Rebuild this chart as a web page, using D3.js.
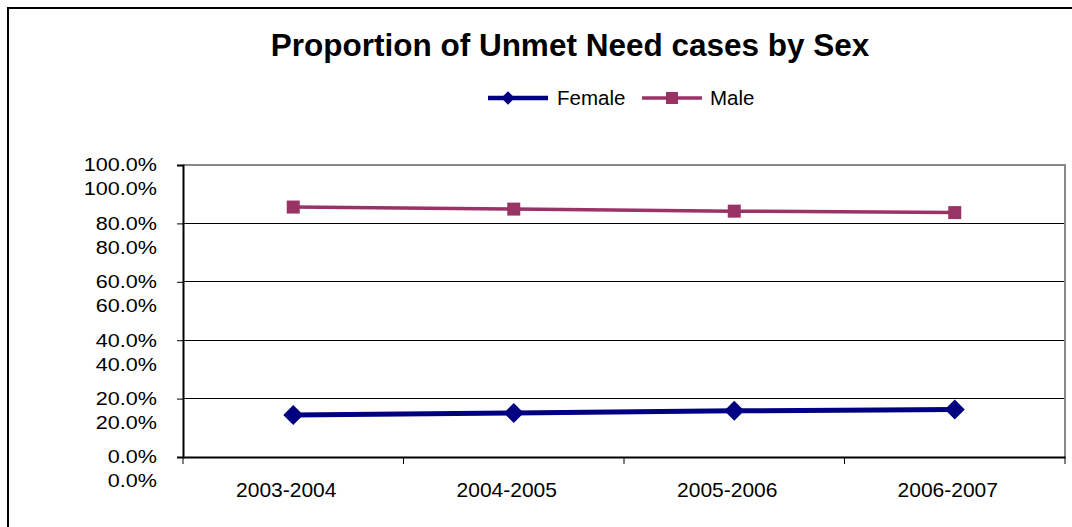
<!DOCTYPE html>
<html><head><meta charset="utf-8">
<script src="https://cdn.jsdelivr.net/npm/d3@7"></script>
<style>body{margin:0;background:#fff}svg{display:block}text{font-family:"Liberation Sans",Arial,sans-serif}</style>
</head><body>
<svg id="c" width="1072" height="527"></svg>
<script>
const categories = ["2003-2004","2004-2005","2005-2006","2006-2007"];
const female = [14.4, 15.1, 15.8, 16.3];
const male = [85.6, 84.9, 84.2, 83.7];
const yTicks = [0, 20, 40, 60, 80, 100];
const seriesNames = ["Female","Male"];

const svg = d3.select("#c");
// outer frame
svg.append("path").attr("d","M8,530 L8,8 L1080,8").attr("fill","none").attr("stroke","#000").attr("stroke-width",2);

const L=183, R=1065, T=165, B=457;
const x = d3.scaleBand().domain(categories).range([L,R]);
const y = d3.scaleLinear().domain([0,100]).range([B,T]);

// gridlines
svg.append("g").selectAll("line").data(yTicks.filter(d=>d>0&&d<100)).join("line")
  .attr("x1",L).attr("x2",R).attr("y1",d=>y(d)).attr("y2",d=>y(d))
  .attr("stroke","#000").attr("stroke-width",1).attr("shape-rendering","crispEdges");
// plot border top/right
svg.append("path").attr("d",`M${L},${T} L${R},${T} L${R},${B}`).attr("fill","none").attr("stroke","#888").attr("stroke-width",2);

// y axis
const ya = svg.append("g").attr("transform",`translate(${L},0)`).call(d3.axisLeft(y).tickValues(yTicks).tickSize(6).tickFormat(()=>""));
ya.select(".domain").attr("stroke","#000").attr("stroke-width",2);
ya.selectAll(".tick line").attr("stroke","#000");
const fmt = d=>d3.format(".1f")(d)+"%";
const lab = svg.append("g").attr("font-size",18).attr("text-anchor","end");
yTicks.forEach(t=>{
  [0,24].forEach(off=>{
    lab.append("text").attr("transform",`translate(157,${y(t)+off}) scale(1.2,1)`).attr("dy","0.35em").attr("fill","#000").text(fmt(t));
  });
});

// x axis
const xa = svg.append("g").attr("transform",`translate(0,${B})`).call(d3.axisBottom(x).tickSize(0).tickFormat(""));
xa.select(".domain").attr("stroke","#000").attr("stroke-width",2);
const bounds = [L, ...categories.slice(1).map(c=>x(c)), R];
svg.append("g").selectAll("line").data(bounds).join("line")
  .attr("x1",d=>d).attr("x2",d=>d).attr("y1",B).attr("y2",B+7).attr("stroke","#000").attr("stroke-width",1);
svg.append("g").attr("font-size",21).attr("text-anchor","middle").selectAll("text").data(categories).join("text")
  .attr("x",d=>x(d)+x.bandwidth()/2-7).attr("y",490).attr("dy","0.35em").text(d=>d);

const cx = d=>x(d)+x.bandwidth()/2;
const line = d3.line().x((d,i)=>cx(categories[i])).y(d=>y(d));
// Male
svg.append("path").datum(male).attr("d",line).attr("fill","none").attr("stroke","#993366").attr("stroke-width",3.5);
svg.append("g").selectAll("rect").data(male).join("rect")
  .attr("x",(d,i)=>cx(categories[i])-6.5).attr("y",d=>y(d)-6.5).attr("width",13).attr("height",13).attr("fill","#993366");
// Female
svg.append("path").datum(female).attr("d",line).attr("fill","none").attr("stroke","#000080").attr("stroke-width",5);
const dia = d3.symbol().type(d3.symbolSquare).size(200);
svg.append("g").selectAll("path").data(female).join("path")
  .attr("d",dia).attr("transform",(d,i)=>`translate(${cx(categories[i])},${y(d)}) rotate(45)`).attr("fill","#000080");

// title
svg.append("text").attr("x",570).attr("y",45).attr("dy","0.35em").attr("text-anchor","middle")
  .attr("font-size",31.5).attr("font-weight","bold").text("Proportion of Unmet Need cases by Sex");

// legend
const lg = svg.append("g");
lg.append("line").attr("x1",488).attr("x2",548).attr("y1",98).attr("y2",98).attr("stroke","#000080").attr("stroke-width",4.5);
lg.append("path").attr("d",d3.symbol().type(d3.symbolSquare).size(90)).attr("transform","translate(508,98) rotate(45)").attr("fill","#000080");
lg.append("text").attr("x",557).attr("y",98).attr("dy","0.35em").attr("font-size",20.5).text(seriesNames[0]);
lg.append("line").attr("x1",642).attr("x2",702).attr("y1",98).attr("y2",98).attr("stroke","#993366").attr("stroke-width",3.5);
lg.append("rect").attr("x",666).attr("y",92).attr("width",12).attr("height",12).attr("fill","#993366");
lg.append("text").attr("x",710).attr("y",98).attr("dy","0.35em").attr("font-size",20.5).text(seriesNames[1]);
</script>
</body></html>
